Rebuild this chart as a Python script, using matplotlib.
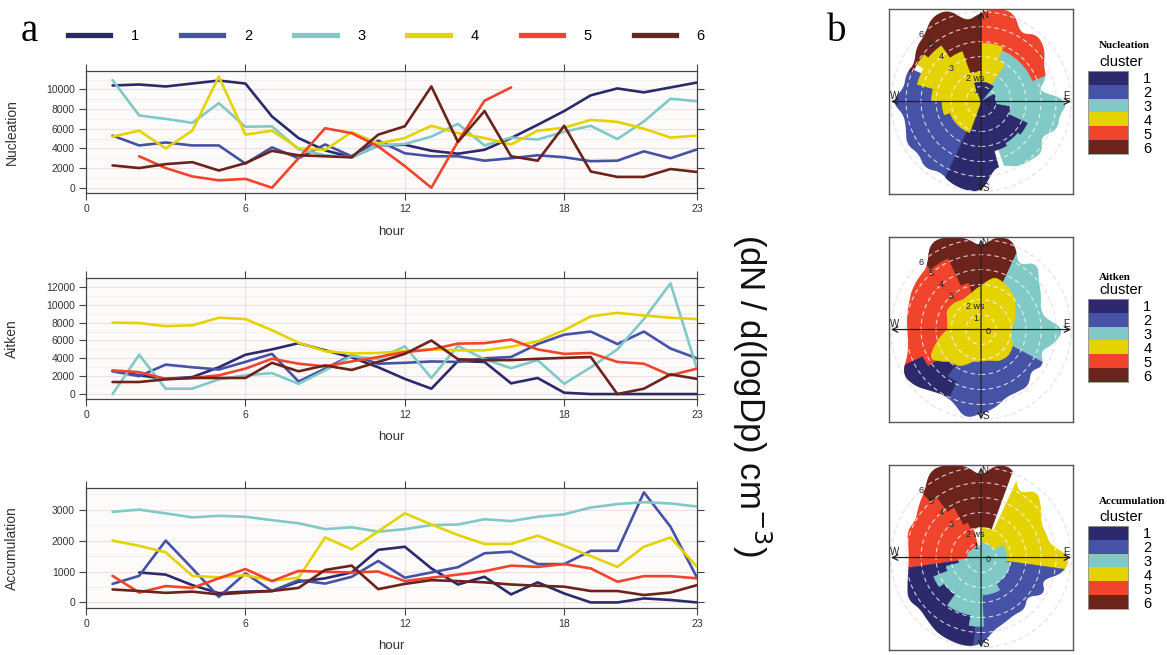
import numpy as np
import matplotlib
matplotlib.use('Agg')
import matplotlib.pyplot as plt
from matplotlib.patches import Wedge, Polygon, Circle
from matplotlib.lines import Line2D
from matplotlib.colors import ListedColormap

plt.rcParams['font.family'] = ['Liberation Sans', 'DejaVu Sans']

nan = np.nan
hours = list(range(1, 24))
clusters = ['1', '2', '3', '4', '5', '6']
colors = ['#2c2a6c', '#4552a6', '#80c9c6', '#e4d300', '#f0452c', '#6c231b']

# ── a: diurnal number concentrations per cluster ──────────────────
nuc1 = [10400, 10500, 10300, 10600, 10900, 10600, 7250, 5050, 3800, 3100, 4300, 4370,
        3760, 3460, 3860, 5050, 6400, 7800, 9400, 10100, 9700, 10200, 10700]
nuc2 = [5300, 4300, 4600, 4300, 4300, 2450, 4100, 3000, 4400, 3200, 4800, 3500,
        3200, 3200, 2750, 3000, 3300, 3100, 2700, 2750, 3700, 3000, 3900]
nuc3 = [10950, 7350, 7000, 6600, 8600, 6200, 6250, 3900, 3300, 3100, 4300, 4450,
        5200, 6500, 4300, 5100, 4900, 5700, 6300, 4950, 6750, 9050, 8800]
nuc4 = [5200, 5800, 4000, 5800, 11300, 5400, 5800, 4000, 3850, 5650, 4500, 5050,
        6300, 5550, 5050, 4400, 5800, 6100, 6900, 6700, 6000, 5100, 5300]
nuc5 = [nan, 3200, 2000, 1150, 750, 900, 0, 3000, 6050, 5550, 4200, 2200,
        0, 4700, 8850, 10200, nan, nan, nan, nan, nan, nan, nan]
nuc6 = [2270, 2000, 2400, 2600, 1750, 2500, 3750, 3300, 3200, 3100, 5400, 6250,
        10300, 4650, 7800, 3200, 2750, 6300, 1650, 1100, 1100, 1900, 1600]

ait1 = [2600, 2100, 1700, 1900, 3000, 4400, 5000, 5700, 4900, 4100, 3000, 1700,
        600, 3700, 3600, 1200, 1800, 150, 0, 0, 0, 0, 0]
ait2 = [2550, 2000, 3300, 3000, 2750, 3600, 4500, 1400, 2850, 4350, 3400, 3500,
        3650, 3600, 4000, 4150, 5600, 6650, 7000, 5600, 7000, 5100, 4000]
ait3 = [0, 4400, 600, 600, 1650, 2100, 2350, 1150, 2650, 4250, 3900, 5350,
        1800, 5400, 3900, 2900, 3800, 1150, 3000, 5000, 8400, 12400, 2800]
ait4 = [8000, 7950, 7600, 7700, 8550, 8400, 7150, 5750, 4800, 4550, 4600, 4800,
        5000, 4900, 4900, 5300, 5900, 7150, 8700, 9100, 8800, 8550, 8400]
ait5 = [2650, 2450, 1700, 1800, 2100, 2850, 3950, 3400, 3100, 3650, 4150, 4700,
        5000, 5650, 5700, 6100, 5000, 4500, 4600, 3600, 3400, 2100, 2850]
ait6 = [1350, 1350, 1650, 1800, 1800, 1800, 3500, 2550, 3200, 2700, 3600, 4500,
        6000, 3900, 3800, 3800, 3950, 4050, 4150, 0, 600, 2200, 1700]

acc1 = [nan, 970, 900, 560, 300, 350, 370, 670, 780, 970, 1700, 1800,
        1100, 580, 830, 260, 650, 290, 0, 0, 130, 80, 0]
acc2 = [600, 860, 2000, 1100, 180, 940, 370, 720, 610, 830, 1340, 800,
        970, 1140, 1590, 1640, 1240, 1240, 1670, 1670, 3560, 2450, 800]
acc3 = [2930, 3000, 2880, 2750, 2800, 2770, 2660, 2560, 2370, 2430, 2290, 2370,
        2500, 2520, 2690, 2630, 2770, 2850, 3070, 3180, 3240, 3200, 3100]
acc4 = [2000, 1830, 1620, 860, 810, 880, 700, 800, 2100, 1720, 2300, 2880,
        2520, 2180, 1890, 1890, 2160, 1830, 1500, 1150, 1800, 2100, 1150]
acc5 = [860, 320, 530, 470, 780, 1080, 690, 1020, 990, 970, 1000, 690,
        800, 900, 1010, 1190, 1150, 1240, 1100, 670, 850, 850, 780]
acc6 = [420, 370, 310, 350, 260, 320, 370, 470, 1050, 1190, 430, 600,
        720, 690, 650, 580, 540, 510, 370, 370, 240, 320, 560]

# ── b: polar cluster maps (compass deg, wind speed) ────────────────
# outer extent of the map every 10 deg from N, clockwise
nuc_outer = [5.9, 6.3, 6.3, 5.2, 5.8, 5.5, 4.8, 4.6, 3.8, 5.8, 5.3, 5.4,
             4.6, 5.3, 5.1, 5.0, 4.5, 4.6, 6.0, 6.0, 5.8, 5.4, 5.8, 5.4,
             5.7, 5.3, 5.2, 5.9, 5.2, 5.3, 5.1, 5.6, 5.8, 6.5, 6.5, 5.4]
ait_outer = [5.5, 6.3, 6.3, 4.9, 5.8, 5.0, 4.6, 4.2, 4.3, 5.5, 5.0, 4.2,
             4.8, 4.3, 4.9, 4.8, 4.8, 5.3, 5.6, 6.0, 5.2, 5.0, 5.3, 5.8,
             6.0, 5.2, 4.9, 4.9, 5.0, 5.1, 5.3, 5.4, 5.5, 6.7, 6.6, 6.2]
acc_outer = [5.4, 6.3, 6.3, 4.9, 5.8, 5.2, 4.6, 4.6, 4.7, 5.9, 5.6, 4.3,
             4.9, 4.0, 4.5, 4.4, 4.6, 4.9, 5.8, 6.0, 5.9, 5.8, 5.5, 5.3,
             5.6, 5.2, 4.9, 4.8, 4.9, 5.2, 5.0, 5.4, 5.8, 6.7, 6.6, 6.2]

# (cluster, from deg, to deg, inner ws, outer ws), later entries on top
nuc_regions = [(3, 20, 160, 0, 9), (5, 0, 68, 3.7, 9), (2, 200, 295, 0, 9),
               (1, 165, 205, 0, 9), (1, 150, 165, 0, 3.4), (1, 130, 150, 0, 3.2),
               (1, 115, 130, 0, 3.4), (1, 100, 115, 0, 2.0), (1, 60, 100, 0, 1.0),
               (4, 200, 250, 0, 2.2), (4, 250, 270, 0, 2.6), (4, 270, 285, 0, 3.3),
               (4, 285, 300, 0, 4.4), (4, 300, 360, 0, 5.0), (4, 0, 22, 1.3, 3.9),
               (4, 22, 32, 1.3, 3.0), (1, 340, 400, 0, 1.3),
               (6, 340, 360, 2.0, 9), (6, 325, 340, 3.6, 9), (6, 310, 325, 4.6, 9),
               (6, 293, 310, 4.95, 9)]
ait_regions = [(5, 235, 330, 0, 9), (6, 320, 385, 0, 9), (3, 25, 118, 0, 9),
               (2, 118, 205, 0, 9), (1, 205, 235, 0, 9), (1, 235, 245, 4.3, 9),
               (2, 205, 215, 0, 3.8), (5, 320, 335, 0, 5.2), (5, 335, 345, 0, 3.2)]
# cluster 4 core of the Aitken map, extent every 15 deg
ait_core = [2.9, 3.6, 3.4, 3.1, 2.6, 2.3, 2.0, 2.1, 2.4, 2.5, 2.4, 2.1,
            2.1, 2.2, 2.8, 3.0, 3.9, 3.0, 2.2, 2.3, 2.6, 2.5, 2.3, 2.5]
acc_regions = [(5, 262, 345, 0, 9), (4, 25, 98, 0, 9), (2, 98, 185, 0, 9),
               (1, 185, 262, 0, 9), (6, 318, 324, 5.0, 9), (6, 324, 332, 3.8, 9),
               (6, 332, 340, 2.5, 9), (6, 340, 380, 2.0, 9), (4, 0, 25, 0.8, 2.0),
               (3, 0, 60, 0, 1.0), (3, 60, 100, 0, 1.7), (3, 100, 150, 0, 2.0),
               (3, 150, 178, 0, 2.5), (3, 178, 190, 0, 4.6), (3, 190, 215, 0, 3.9),
               (3, 215, 235, 0, 3.0), (3, 235, 248, 0, 3.4), (3, 248, 256, 0, 2.4),
               (3, 256, 265, 0, 1.5), (3, 265, 300, 0, 0.9), (3, 300, 360, 0, 0.8)]

ws_rings = [1, 2, 3, 4, 5, 6]
ring_labels = ['1', '2 ws', '3', '4', '5', '6']

fig = plt.figure(figsize=(11.67, 6.55), dpi=100)

# ── line panels ──────────────────────────────────────────────────
line_panels = [
    ('Nucleation', [nuc1, nuc2, nuc3, nuc4, nuc5, nuc6], (-540, 11900), 2000, 10000,
     [0.0737, 0.7053, 0.5236, 0.1867]),
    ('Aitken', [ait1, ait2, ait3, ait4, ait5, ait6], (-520, 13000), 2000, 12000,
     [0.0737, 0.3913, 0.5236, 0.1843]),
    ('Accumulation', [acc1, acc2, acc3, acc4, acc5, acc6], (-170, 3690), 1000, 3000,
     [0.0737, 0.0722, 0.5236, 0.1823]),
]
for name, series, ylim, step, ymax, pos in line_panels:
    ax = fig.add_axes(pos)
    ax.set_facecolor('#fdfbf9')
    for vals, c in zip(series, colors):
        ax.plot(hours, vals, color=c, lw=1.9, solid_capstyle='round', zorder=3)
    ax.set_xlim(0, 23)
    ax.set_ylim(*ylim)
    ax.set_xticks([0, 6, 12, 18, 23])
    ax.set_yticks(np.arange(0, ymax + 1, step))
    ax.set_yticks(np.arange(step / 2, ylim[1], step), minor=True)
    ax.grid(True, which='major', color='#efdfe4', lw=0.8, zorder=0)
    ax.grid(True, which='minor', axis='y', color='#f6edef', lw=0.7, zorder=0)
    ax.tick_params(which='major', direction='out', length=5, width=0.8, color='#444444',
                   labelsize=7.5, labelcolor='#333333', top=True, right=True, pad=3)
    ax.tick_params(which='minor', length=0)
    for sp in ax.spines.values():
        sp.set_color('#444444')
        sp.set_linewidth(0.9)
    ax.set_ylabel(name, fontsize=10, color='#333333')
    ax.yaxis.set_label_coords(-0.11, 0.5)
    ax.set_xlabel('hour', fontsize=9.5, color='#333333')
    ax.xaxis.set_label_coords(0.5, -0.27)

handles = [Line2D([], [], color=c, lw=3.8) for c in colors]
fig.legend(handles, clusters, loc='center', bbox_to_anchor=(0.331, 0.945), ncol=6,
           frameon=False, fontsize=10.5, handlelength=2.9, handletextpad=1.4,
           columnspacing=2.9)

fig.text(0.644, 0.397, r'(dN / d(logDp) cm$^{-3}$)', rotation=270, fontsize=25,
         ha='center', va='center', color='#111111')
fig.text(0.018, 0.937, 'a', fontsize=28, family='Liberation Serif', va='baseline')
fig.text(0.709, 0.937, 'b', fontsize=28, family='Liberation Serif', va='baseline')


def smooth_outline(vals, step, width=9):
    deg = np.arange(0, 360, 1)
    r = np.interp(deg, np.arange(0, 361, step), list(vals) + [vals[0]])
    pad = np.concatenate([r[-width:], r, r[:width]])
    r = np.convolve(pad, np.ones(width) / width, mode='same')[width:-width]
    th = np.radians(deg)
    return np.column_stack([r * np.sin(th), r * np.cos(th)])


# ── polar cluster maps ───────────────────────────────────────────
def draw_map(ax, regions, outer, core=None):
    ax.set_xlim(-6.13, 6.13)
    ax.set_ylim(-6.17, 6.17)
    ax.set_xticks([])
    ax.set_yticks([])
    for sp in ax.spines.values():
        sp.set_color('#555555')
        sp.set_linewidth(1.0)
    clip = Polygon(smooth_outline(outer, 10), closed=True,
                   facecolor='none', edgecolor='none')
    ax.add_patch(clip)
    for r in ws_rings:
        ax.add_patch(Circle((0, 0), r, fill=False, ec='#d4b9bc', lw=0.8,
                            ls=(0, (4, 3)), zorder=0.5))
    for c, a1, a2, r1, r2 in regions:
        w = Wedge((0, 0), r2, 90 - a2, 90 - a1, width=(r2 - r1) if r1 > 0 else None,
                  facecolor=colors[c - 1], edgecolor=colors[c - 1], lw=0.4, zorder=1)
        ax.add_patch(w)
        w.set_clip_path(clip)
    if core is not None:
        ax.add_patch(Polygon(smooth_outline(core, 15, 7), closed=True,
                             facecolor=colors[3], edgecolor=colors[3], lw=0.4,
                             zorder=1.1))
    for r in ws_rings:
        ax.add_patch(Circle((0, 0), r, fill=False, ec='white', lw=0.8, alpha=0.75,
                            ls=(0, (4, 3)), zorder=2))
    ax.annotate('', xy=(0, 6.0), xytext=(0, -6.0),
                arrowprops=dict(arrowstyle='<->', lw=0.9, color='#222222',
                                shrinkA=0, shrinkB=0), zorder=4)
    ax.annotate('', xy=(6.0, 0), xytext=(-6.0, 0),
                arrowprops=dict(arrowstyle='<->', lw=0.9, color='#222222',
                                shrinkA=0, shrinkB=0), zorder=4)
    kw = dict(fontsize=7, color='#222222', zorder=5, ha='center', va='center')
    ax.text(0.25, 5.75, 'N', **kw)
    ax.text(0.3, -5.78, 'S', **kw)
    ax.text(-5.75, 0.35, 'W', **kw)
    ax.text(5.7, 0.35, 'E', **kw)
    for r, lab in zip(ws_rings, ring_labels):
        a = np.radians(318 if r > 2 else 334)
        rp = r if r > 2 else r * 0.85
        if lab == '2 ws':
            ax.text(rp * np.sin(a) - 0.25, rp * np.cos(a), lab, fontsize=6.5,
                    color='#222222', ha='left', va='center', zorder=5)
        else:
            ax.text(rp * np.sin(a), rp * np.cos(a), lab, fontsize=6.5, color='#222222',
                    ha='center', va='center', zorder=5)
    ax.text(0.5, -0.1, '0', fontsize=6.5, color='#222222', ha='center', va='center',
            zorder=5)


map_panels = [
    ('Nucleation', nuc_regions, nuc_outer, None, 0.7038, 0.7649, 0.930, 0.905),
    ('Aitken', ait_regions, ait_outer, ait_core, 0.3557, 0.4168, 0.577, 0.557),
    ('Accumulation', acc_regions, acc_outer, None, 0.0076, 0.0702, 0.234, 0.211),
]
cmap = ListedColormap(colors)
for name, regions, outer, core, bottom, lbot, ty, cy in map_panels:
    pax = fig.add_axes([0.7618, bottom, 0.1577, 0.2824])
    draw_map(pax, regions, outer, core)
    lax = fig.add_axes([0.9323, lbot, 0.0343, 0.1267])
    lax.imshow(np.arange(6).reshape(6, 1), cmap=cmap, aspect='auto',
               interpolation='nearest')
    lax.set_xticks([])
    lax.yaxis.tick_right()
    lax.set_yticks(range(6))
    lax.set_yticklabels(clusters)
    lax.tick_params(length=0, pad=11, labelsize=10.5)
    for sp in lax.spines.values():
        sp.set_color('#999999')
        sp.set_linewidth(0.6)
    fig.text(0.9417, ty, name, fontsize=8, fontweight='bold', family='Liberation Serif',
             ha='left', va='center')
    fig.text(0.9417, cy, 'cluster', fontsize=10.5, ha='left', va='center')

fig.savefig('out.png', dpi=100)
